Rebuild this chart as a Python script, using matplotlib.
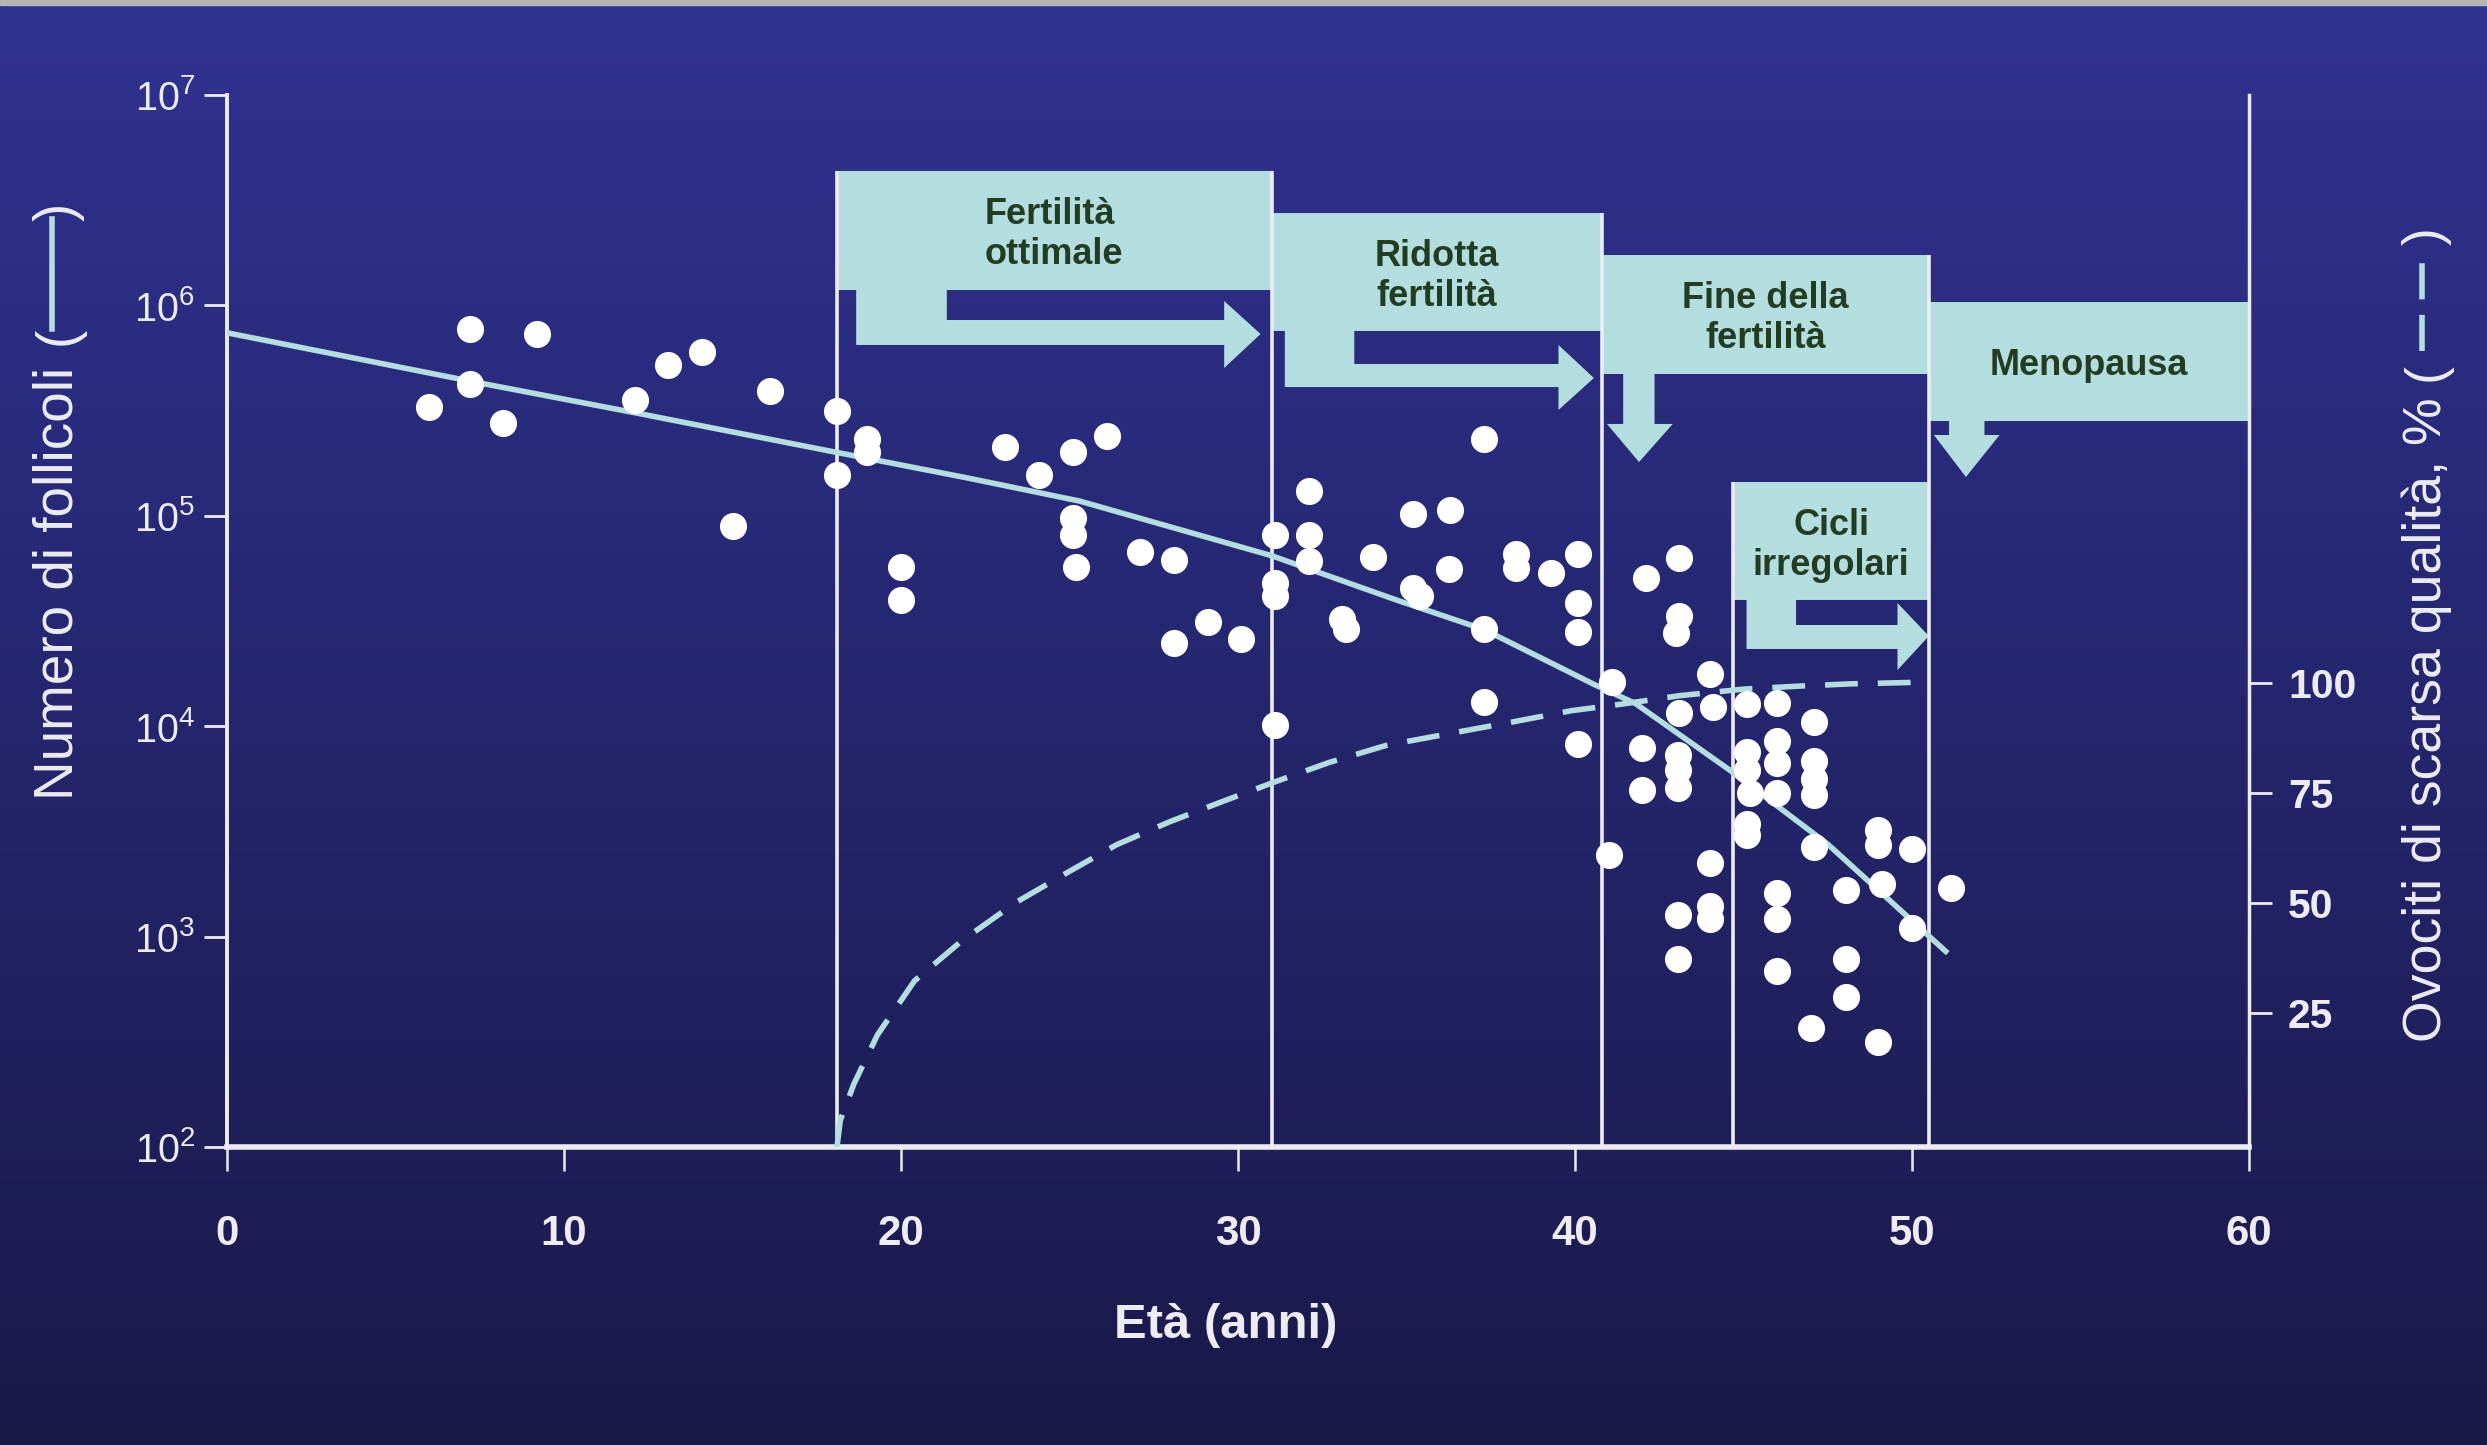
import numpy as np
import matplotlib
matplotlib.use("Agg")
import matplotlib.pyplot as plt
import matplotlib.font_manager as fm
from matplotlib.patches import Polygon, Rectangle
from matplotlib.lines import Line2D
from matplotlib.ticker import NullLocator
from matplotlib.transforms import blended_transform_factory

# font stretto se disponibile
nomi_font = {f.name for f in fm.fontManager.ttflist}
if "Liberation Sans Narrow" in nomi_font:
    FONT, K = "Liberation Sans Narrow", 1.0
else:
    FONT, K = "Liberation Sans", 0.84
plt.rcParams["font.family"] = [FONT, "DejaVu Sans"]

# --- dati ---
eta_punti = [6.0, 7.2, 7.2, 8.2, 9.2, 12.1, 13.1, 14.1, 15.0, 16.1, 18.1, 18.1,
             19.0, 19.0, 20.0, 20.0, 23.1, 24.1, 25.1, 26.1, 25.1, 25.1, 25.2,
             27.1, 28.1, 29.1, 28.1, 30.1, 31.1, 31.1, 31.1, 31.1, 32.1, 32.1,
             32.1, 33.1, 33.2, 34.0,
             35.2, 36.3, 36.25, 35.2, 35.4, 37.3, 37.3, 37.3, 38.25, 38.25, 39.3,
             40.1, 40.1, 40.1, 41.1, 40.1, 41.0, 42.1, 43.1, 43.1, 43.0, 43.1,
             42.0, 43.05, 43.05, 42.0, 43.05,
             44.0, 44.1, 45.1, 46.0, 47.1, 45.1, 45.1, 46.0, 46.0, 47.1, 47.1,
             47.1, 45.2, 46.0, 45.1, 45.1, 47.1, 44.0, 49.0, 49.0, 50.0, 46.0,
             48.05, 49.1, 51.15, 43.05, 44.0, 44.0, 46.0, 50.0, 43.05, 46.0,
             48.05, 48.05, 47.0, 49.0]
follicoli_punti = [330000, 775000, 425000, 276000, 730000, 357000, 520000, 600000,
                   89000, 390000, 315000, 156000,
                   231000, 200000, 57000, 39700, 213000, 156000, 200000, 239000,
                   98000, 81000, 57000, 67000, 61500, 31200, 24800, 26000, 81000,
                   48000, 41500, 10100, 131000, 81000, 61000, 32300, 29000, 63600,
                   102000, 107000, 55600, 45300, 41500, 231000, 29000, 13100, 65500,
                   56600, 53700, 65500, 38700, 28000, 16200, 8200, 2430, 50800,
                   62700, 33500, 27700, 11600, 7900, 7300, 6200, 5000, 5100,
                   17800, 12400, 12800, 12900, 10500, 7500, 6200, 8500, 6700, 6800,
                   5600, 4700, 4800, 4800, 3440, 3030, 2670, 2230, 3200, 2720, 2620,
                   1610, 1670, 1770, 1700, 1260, 1400, 1210, 1210, 1100, 783, 690,
                   783, 515, 366, 315]

eta_curva = [0, 7.2, 12.1, 18.1, 22.0, 25.3, 31.0, 34.7, 37.3, 40.6, 41.8, 44.6, 47.5, 51.0]
follicoli_curva = [741000, 437000, 309000, 200000, 151000, 117500, 64600, 39800,
                   28800, 15700, 12800, 6170, 2750, 851]

eta_qualita = [18.1, 18.2, 18.6, 19.3, 20.4, 21.8, 23.4, 24.9, 26.4, 28.0, 29.6, 31.1,
               32.7, 34.4, 36.5, 38.2, 39.9, 41.4, 43.1, 45.0, 46.7, 48.2, 49.9, 50.5]
ovociti_scarsi = [-5.6, 0.5, 8.7, 19.9, 32.2, 41.3, 50.0, 56.7, 63.2, 68.5, 73.2, 77.5,
                  81.9, 85.8, 88.8, 91.2, 93.7, 95.2, 97.1, 98.6, 99.3, 99.8, 100.1, 100.3]

confini_fasi = [18.1, 31.0, 40.8, 50.5, 60]
nomi_fasi = ["Fertilità\nottimale", "Ridotta\nfertilità", "Fine della\nfertilità", "Menopausa"]
cicli_irregolari = (44.7, 50.5)
nome_cicli = "Cicli\nirregolari"

x_ticks = [0, 10, 20, 30, 40, 50, 60]
y_esponenti = [2, 3, 4, 5, 6, 7]
r_ticks = [25, 50, 75, 100]

W, H = 2487, 1445
BLU_ALTO = np.array([48, 50, 145]) / 255
BLU_BASSO = np.array([26, 25, 74]) / 255
CIANO = "#b4dde0"
BIANCO = "#ececf2"
VERDE = "#233d22"

fig = plt.figure(figsize=(W / 100, H / 100), dpi=100)

# sfondo sfumato
bg = fig.add_axes([0, 0, 1, 1], zorder=-10)
t = np.linspace(0, 1, 256)[:, None, None]
bg.imshow(BLU_ALTO * (1 - t) + BLU_BASSO * t, aspect="auto", extent=[0, 1, 0, 1])
bg.set_axis_off()
fig.add_artist(Rectangle((0, 1 - 5 / H), 1, 5 / H, transform=fig.transFigure,
                         color="#b4b4b4", zorder=-5))

ax = fig.add_axes([227 / W, 1 - 1147 / H, 2022 / W, (1147 - 95) / H])
ax.patch.set_visible(False)
ax2 = ax.twinx()
ax2.patch.set_visible(False)
ax.set_yscale("log")
ax.set_xlim(0, 60)
ax.set_ylim(1e2, 1e7)
ax2.set_ylim(-5.6, 233.8)

tr = blended_transform_factory(ax.transData, ax.transAxes)

# riquadri con frecce
def freccia_destra(x0, x1, top, bot, b0, b1, fine, punta, st, basso, ht, hb, ty):
    return [(x0, top), (x1, top), (x1, bot), (x0 + b1, bot), (x0 + b1, st),
            (x1 - fine, st), (x1 - fine, ht), (x1 - punta, ty), (x1 - fine, hb),
            (x1 - fine, basso), (x0 + b0, basso), (x0 + b0, bot), (x0, bot)]

def freccia_giu(x0, x1, top, bot, s0, s1, h0, h1, punta, sb, ty):
    return [(x0, top), (x1, top), (x1, bot), (x0 + s1, bot), (x0 + s1, sb),
            (x0 + h1, sb), (x0 + punta, ty), (x0 + h0, sb), (x0 + s0, sb),
            (x0 + s0, bot), (x0, bot)]

f = confini_fasi
c0, c1 = cicli_irregolari
riquadri = [
    (f[0], f[1], 0.9278, 0.8146, freccia_destra(f[0], f[1], 0.9278, 0.8146, 0.57, 3.26, 1.41, 0.33,
                                                 0.7861, 0.7624, 0.8042, 0.7405, 0.7728)),
    (f[1], f[2], 0.8878, 0.7757, freccia_destra(f[1], f[2], 0.8878, 0.7757, 0.39, 2.45, 1.29, 0.24,
                                                 0.7443, 0.7224, 0.7624, 0.7006, 0.7310)),
    (f[2], f[3], 0.8479, 0.7348, freccia_giu(f[2], f[3], 0.8479, 0.7348, 0.63, 1.56, 0.15, 2.1, 1.1,
                                              0.6873, 0.6511)),
    (f[3], f[4], 0.8032, 0.6901, freccia_giu(f[3], f[4], 0.8032, 0.6901, 0.6, 1.65, 0.15, 2.1, 1.1,
                                              0.6768, 0.6369)),
    (c0, c1, 0.6321, 0.5200, freccia_destra(c0, c1, 0.6321, 0.5200, 0.39, 1.86, 0.93, 0.0,
                                             0.4962, 0.4734, 0.5171, 0.4534, 0.4857)),
]
testi = nomi_fasi + [nome_cicli]
for i, (x0, x1, top, bot, pts) in enumerate(riquadri):
    ax.add_patch(Polygon(pts, closed=True, transform=tr, facecolor=CIANO,
                         edgecolor="none", zorder=2))
    ax.text((x0 + x1) / 2, (top + bot) / 2 - 0.004, testi[i], transform=tr,
            ha="center", va="center", multialignment="left" if i == 0 else "center",
            fontsize=31 * K, fontweight="bold", color=VERDE, zorder=6)

# linee verticali delle fasi
for b in confini_fasi[:-1] + [c0]:
    top = max(r[2] for r in riquadri if abs(r[0] - b) < 1e-9 or abs(r[1] - b) < 1e-9)
    ax.plot([b, b], [0, top], transform=tr, color=BIANCO, lw=2.6, zorder=3,
            solid_capstyle="butt")

# curve e punti
ax.plot(eta_curva, follicoli_curva, color=CIANO, lw=4, zorder=4)
ax.plot(eta_qualita, ovociti_scarsi, transform=ax2.transData, color=CIANO, lw=4,
        dashes=(5.9, 3.6), zorder=4)
ax.plot(eta_punti, follicoli_punti, "o", color="white", ms=19.5, mec="none", zorder=5)

# assi
for s in ["top", "right"]:
    ax.spines[s].set_visible(False)
for s in ["top", "left", "bottom"]:
    ax2.spines[s].set_visible(False)
ax.spines["left"].set(color=BIANCO, linewidth=2.8)
ax.spines["bottom"].set(color=BIANCO, linewidth=4)
ax2.spines["right"].set(color=BIANCO, linewidth=2.5)

ax.set_xticks(x_ticks)
ax.set_xticklabels([str(v) for v in x_ticks], fontsize=36 * K, fontweight="bold")
ax.set_yticks([10.0 ** e for e in y_esponenti])
ax.set_yticklabels([r"$\mathregular{10^{%d}}$" % e for e in y_esponenti], fontsize=34 * K)
ax.yaxis.set_minor_locator(NullLocator())
ax.tick_params(axis="x", length=17, width=1.8, pad=31, colors=BIANCO)
ax.tick_params(axis="y", length=16.5, width=2, pad=6.5, colors=BIANCO)
ax2.set_yticks(r_ticks)
ax2.set_yticklabels([str(v) for v in r_ticks], fontsize=35 * K, fontweight="bold")
ax2.tick_params(axis="y", length=16.5, width=2, pad=11.5, colors=BIANCO)

# etichette degli assi con campioni di linea
fig.text(1226 / W, 1 - 1325 / H, "Età (anni)", ha="center", va="center",
         fontsize=42 * K, fontweight="bold", color=BIANCO)

fig.text(59 / W, 1 - 583 / H, "Numero di follicoli", rotation=90, ha="center",
         va="center", fontsize=47 * K, color=BIANCO)
fig.text(59 / W, 1 - 336 / H, "(", rotation=90, ha="center", va="center",
         fontsize=47 * K, color=BIANCO)
fig.text(59 / W, 1 - 212 / H, ")", rotation=90, ha="center", va="center",
         fontsize=47 * K, color=BIANCO)
fig.add_artist(Line2D([52 / W, 52 / W], [1 - 329 / H, 1 - 219 / H], color=CIANO, lw=4))

fig.text(2427 / W, 1 - 720 / H, "Ovociti di scarsa qualità, %", rotation=90,
         ha="center", va="center", fontsize=46 * K, color=BIANCO)
fig.text(2427 / W, 1 - 372 / H, "(", rotation=90, ha="center", va="center",
         fontsize=46 * K, color=BIANCO)
fig.text(2427 / W, 1 - 236 / H, ")", rotation=90, ha="center", va="center",
         fontsize=46 * K, color=BIANCO)
fig.add_artist(Line2D([2422 / W, 2422 / W], [1 - 351 / H, 1 - 260 / H], color=CIANO,
                      lw=4, dashes=(6.5, 2.8)))

fig.savefig("out.png", dpi=100)
